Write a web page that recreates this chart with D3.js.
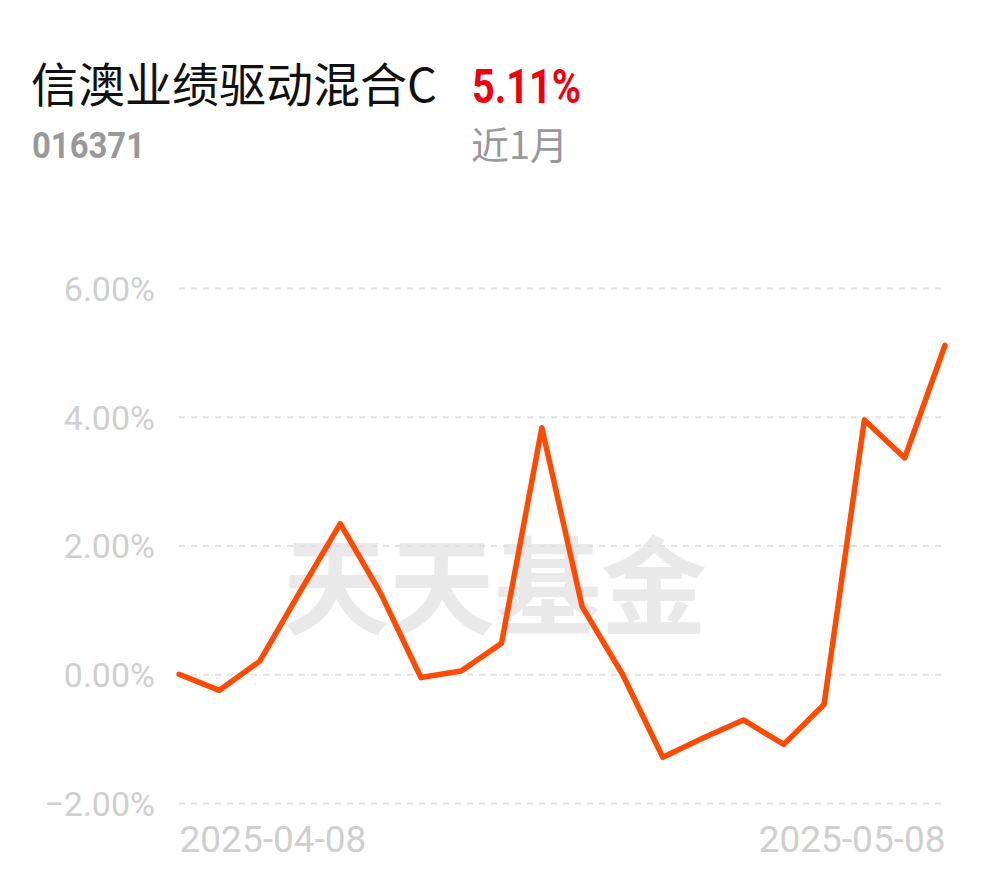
<!DOCTYPE html>
<html><head><meta charset="utf-8">
<script src="https://cdn.jsdelivr.net/npm/d3@7/dist/d3.min.js"></script>
<style>html,body{margin:0;padding:0;background:#fff;}svg{display:block;}</style>
</head><body>
<svg id="chart" width="990" height="878"></svg>
<script>
const title = "信澳业绩驱动混合C";
const fundCode = "016371";
const returnLabel = "5.11%";
const periodLabel = "近1月";
const watermark = "天天基金";
const dates = ["2025-04-08","2025-04-09","2025-04-10","2025-04-11","2025-04-14","2025-04-15","2025-04-16","2025-04-17","2025-04-18","2025-04-21","2025-04-22","2025-04-23","2025-04-24","2025-04-25","2025-04-28","2025-04-29","2025-04-30","2025-05-06","2025-05-07","2025-05-08"];
const values = [0.00,-0.25,0.20,1.28,2.34,1.26,-0.05,0.05,0.48,3.83,1.05,0.00,-1.29,-0.99,-0.71,-1.09,-0.47,3.95,3.36,5.11];
const yTicks = [-2,0,2,4,6];
const xTickLabels = ["2025-04-08","2025-05-08"];

const svg = d3.select("#chart");
const x = d3.scalePoint().domain(dates).range([179, 945]);
const y = d3.scaleLinear().domain([-2, 6]).range([803, 288]);

// title block
svg.append("text").attr("x", 31).attr("y", 102).attr("font-family", "'Noto Sans CJK SC'")
  .attr("font-size", 47).attr("fill", "#111").text(title);
svg.append("text").attr("x", 472).attr("y", 103).attr("font-family", "Roboto")
  .attr("font-weight", "bold").attr("font-size", 48).attr("fill", "#f0000a")
  .attr("textLength", 109).attr("lengthAdjust", "spacingAndGlyphs").text(returnLabel);
svg.append("text").attr("x", 32).attr("y", 158).attr("font-family", "Roboto")
  .attr("font-weight", "bold").attr("font-size", 36).attr("fill", "#999")
  .attr("textLength", 113).attr("lengthAdjust", "spacingAndGlyphs").text(fundCode);
svg.append("text").attr("x", 471).attr("y", 159).attr("font-family", "'Noto Sans CJK SC'")
  .attr("font-size", 38).attr("fill", "#999").text(periodLabel);

// watermark
svg.append("text").attr("x", 495).attr("y", 626).attr("text-anchor", "middle")
  .attr("font-family", "'Noto Sans CJK SC'").attr("font-weight", "bold")
  .attr("font-size", 106).attr("fill", "#e9e9e9").text(watermark);

// y axis with gridlines
const yAxis = d3.axisLeft(y).tickValues(yTicks).tickSize(-(945 - 179))
  .tickPadding(24).tickFormat(d => (d < 0 ? "\u2212" : "") + Math.abs(d).toFixed(2) + "%");
const gy = svg.append("g").attr("transform", "translate(179,0)").call(yAxis);
gy.select(".domain").remove();
gy.selectAll("line").attr("stroke", "#e2e2e2").attr("stroke-width", 2).attr("stroke-dasharray", "6,6");
gy.selectAll("text").attr("font-family", "Roboto").attr("font-size", 34).attr("fill", "#cfcfcf")
  .attr("x", -24).attr("dy", "0.36em");

// x axis labels
const xAxis = d3.axisBottom(x).tickValues(xTickLabels).tickSize(0).tickPadding(0);
const gx = svg.append("g").attr("transform", "translate(0,826)").call(xAxis);
gx.select(".domain").remove();
gx.selectAll("text").attr("font-family", "Roboto").attr("font-size", 37).attr("fill", "#cfcfcf")
  .attr("dy", "0.71em")
  .attr("text-anchor", (d, i) => i === 0 ? "start" : "end");

// line
const line = d3.line().x((d, i) => x(dates[i])).y(d => y(d));
svg.append("path").datum(values).attr("d", line).attr("fill", "none")
  .attr("stroke", "#ff4a00").attr("stroke-width", 5.5)
  .attr("stroke-linejoin", "round").attr("stroke-linecap", "round");
</script>
</body></html>
